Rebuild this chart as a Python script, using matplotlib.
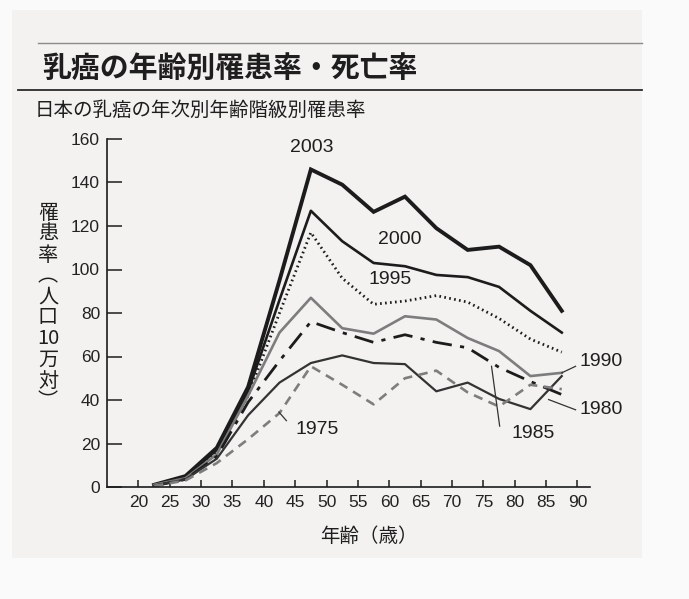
import matplotlib
matplotlib.use("Agg")
import matplotlib.pyplot as plt
from matplotlib.patches import Rectangle
from matplotlib.lines import Line2D

# age-group midpoints (22.5 = 20-24 ... 87.5 = 85+)
ages = [22.5, 27.5, 32.5, 37.5, 42.5, 47.5, 52.5, 57.5, 62.5, 67.5, 72.5, 77.5, 82.5, 87.5]

rate_2003 = [1, 5, 18, 46, 95, 146, 139, 126.5, 133.5, 119, 109, 110.5, 102, 81]
rate_2000 = [1, 4.5, 17, 44, 86, 127, 113, 103, 101.5, 97.5, 96.5, 92, 81, 71]
rate_1995 = [1, 4, 16, 42, 80, 117, 96, 84, 85.5, 88, 85, 77.5, 68, 62]
rate_1990 = [1, 4, 15, 42, 71, 87, 73, 70.5, 78.5, 77, 68.5, 62.5, 51, 52.5]
rate_1985 = [0.5, 3.5, 14, 39, 58, 76, 71, 66.5, 70, 66.5, 64, 55, 48.5, 42.5]
rate_1980 = [0.5, 3.5, 13, 33, 48, 57, 60.5, 57, 56.5, 44, 48, 40.5, 35.8, 51]
rate_1975 = [0.5, 3, 11, 22, 34, 55.5, 47, 38, 50, 53.5, 43.5, 37, 47, 45]

x_ticks = list(range(20, 95, 5))
y_ticks = list(range(0, 180, 20))

title = "乳癌の年齢別罹患率・死亡率"
subtitle = "日本の乳癌の年次別年齢階級別罹患率"
ylabel_chars = ["罹", "患", "率", "︵", "人", "口", "10", "万", "対", "︶"]
xlabel = "年齢（歳）"

JP = ["Noto Sans CJK JP", "DejaVu Sans"]
NUM = ["Liberation Sans", "DejaVu Sans"]

W, H = 689, 599
fig = plt.figure(figsize=(W / 100, H / 100), dpi=100)
fig.patch.set_facecolor("#fafafa")

def fx(px):
    return px / W

def fy(py):
    return 1 - py / H

# scanned page area
fig.add_artist(Rectangle((fx(12), fy(558)), fx(642) - fx(12), fy(10) - fy(558),
                         transform=fig.transFigure, facecolor="#f3f2f0",
                         edgecolor="none", zorder=0))

# header rules
fig.add_artist(Line2D([fx(38), fx(642)], [fy(43), fy(43)], transform=fig.transFigure,
                      color="#8a8a8a", lw=1.0))
fig.add_artist(Line2D([fx(18), fx(642)], [fy(90), fy(90)], transform=fig.transFigure,
                      color="#2a2a2a", lw=1.3))

fig.text(fx(42), fy(68), title, family=JP, fontsize=20.8, fontweight="bold",
         color="#1e1e1e", va="center", ha="left")
fig.text(fx(35), fy(110), subtitle, family=JP, fontsize=14,
         color="#1e1e1e", va="center", ha="left")

ax = fig.add_axes([fx(107), fy(487), fx(590) - fx(107), fy(139) - fy(487)])
ax.set_facecolor("none")

ink = "#1c1c1c"
grey = "#7d7d7d"
ax.plot(ages, rate_2003, color=ink, lw=2.8, solid_joinstyle="miter")
ax.plot(ages, rate_2000, color=ink, lw=1.9)
ax.plot(ages, rate_1995, color=ink, lw=2.0, linestyle=(0, (0.6, 1.2)))
ax.plot(ages, rate_1990, color=grey, lw=1.9)
ax.plot(ages, rate_1985, color=ink, lw=2.0, linestyle=(0, (7, 3, 1.5, 3)))
ax.plot(ages, rate_1980, color="#333333", lw=1.6)
ax.plot(ages, rate_1975, color=grey, lw=1.9, linestyle=(0, (3.5, 2.5)))

ax.set_xlim(15, 92)
ax.set_ylim(0, 160)
ax.set_xticks(x_ticks)
ax.set_yticks(y_ticks)
ax.set_xticklabels([str(v) for v in x_ticks], family=NUM, fontsize=12.5, color="#222222")
ax.set_yticklabels([str(v) for v in y_ticks], family=NUM, fontsize=12.5, color="#222222")
ax.tick_params(axis="x", direction="in", length=5, width=1.1, pad=6, color=ink)
ax.tick_params(axis="y", direction="in", length=11, width=1.1, pad=5, color=ink)
for side in ("top", "right"):
    ax.spines[side].set_visible(False)
for side in ("left", "bottom"):
    ax.spines[side].set_linewidth(1.2)
    ax.spines[side].set_color(ink)

# year labels with leader lines
lab = dict(family=NUM, fontsize=14, color="#1e1e1e", clip_on=False)
ax.text(47.7, 156, "2003", ha="center", va="center", **lab)
ax.text(61.6, 114, "2000", ha="center", va="center", **lab)
ax.text(60.1, 95.5, "1995", ha="center", va="center", **lab)
ax.text(90.3, 57.5, "1990", ha="left", va="center", **lab)
ax.text(90.3, 35.5, "1980", ha="left", va="center", **lab)
ax.text(83.0, 24.5, "1985", ha="center", va="center", **lab)
ax.text(48.5, 26.5, "1975", ha="center", va="center", **lab)

lead = dict(color="#333333", lw=0.9, clip_on=False)
ax.plot([87.5, 89.7], [52.5, 55.5], **lead)
ax.plot([85.4, 89.7], [40.2, 35.5], **lead)
ax.plot([76.3, 77.6], [55.5, 28.0], **lead)
ax.plot([42.4, 43.6], [34.5, 30.5], **lead)

fig.text(fx(369), fy(536), xlabel, family=JP, fontsize=14, color="#1e1e1e",
         ha="center", va="center")

y0, step = 213, 21.0
for i, ch in enumerate(ylabel_chars):
    fig.text(fx(48), fy(y0 + i * step), ch, family=JP, fontsize=14.5,
             color="#1e1e1e", ha="center", va="center")

fig.savefig("out.png", dpi=100, facecolor=fig.get_facecolor())
